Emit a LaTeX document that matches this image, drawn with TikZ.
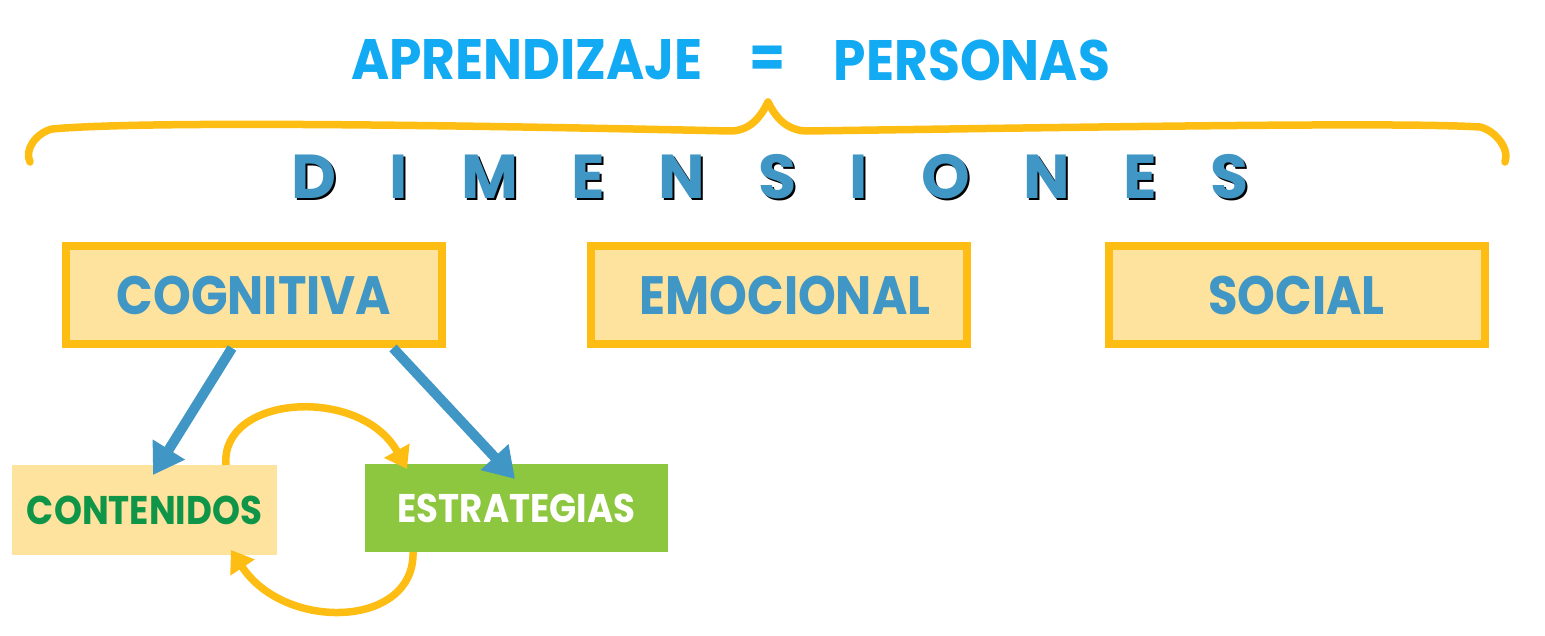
\documentclass[tikz,border=0pt]{standalone}
\usepackage{fontspec}
\setmainfont{Poppins}
\newfontfamily\popn{Poppins}[FakeStretch=0.89]
\newfontfamily\popt{Poppins}[FakeStretch=0.91]
\usetikzlibrary{arrows.meta}
\definecolor{ttl}{HTML}{12AAF2}
\definecolor{brc}{HTML}{FDBD12}
\definecolor{lfill}{HTML}{FDE39D}
\definecolor{dblue}{HTML}{4096C4}
\definecolor{gtext}{HTML}{0F9548}
\definecolor{gfill}{HTML}{8DC63F}
\begin{document}
\begin{tikzpicture}[x=1pt,y=-1pt,
  dimbox/.style={draw=brc,line width=8pt,fill=lfill,minimum width=376pt,minimum height=98pt,inner sep=0pt,
     text=dblue,font=\popn\fontsize{54}{60}\selectfont\bfseries},
  subbox/.style={minimum width=#1,minimum height=90pt,inner sep=0pt,font=\popn\fontsize{40}{44}\selectfont\bfseries},
  ttltext/.style={text=ttl,inner sep=0pt,font=\popt\fontsize{57}{62}\selectfont\bfseries},
  blarrow/.style={draw=dblue,line width=10pt,-{Triangle[length=30pt,width=36pt]}},
  yarrow/.style={draw=brc,line width=7.5pt,-{Triangle[length=21pt,width=28pt]}},
  dimtext/.style={inner sep=0pt,font=\fontsize{62}{66}\selectfont\bfseries}
]
\useasboundingbox (0,0) rectangle (1545,636);
% title
\node[ttltext] (apr) at (527,60) {APRENDIZAJE};
\node[ttltext] (eq) at (768,62) {=};
\node[ttltext] (per) at (972,60) {PERSONAS};
% brace
\draw[brc,line width=7.5pt,line cap=round,line join=round]
  (30,162) .. controls (24,150) and (36,133) .. (52,129)
  .. controls (150,120) and (500,126) .. (730,131)
  .. controls (752,131) and (762,114) .. (768,102)
  .. controls (774,114) and (784,130) .. (806,131)
  .. controls (1100,127) and (1400,122) .. (1480,127)
  .. controls (1494,130) and (1510,148) .. (1505,162);
% dimensiones
\node[dimtext,text=black] (dimsh) at (772,179) {{\spaceskip=53.3pt D I M E N S I O N E S}};
\node[dimtext,text=dblue] (dim) at (770,177) {{\spaceskip=53.3pt D I M E N S I O N E S}};
% boxes
\node[dimbox] (cog) at (254,295) {COGNITIVA};
\node[dimbox] (emo) at (779,295) {\hspace*{12pt}EMOCIONAL};
\node[dimbox] (soc) at (1296.5,295) {SOCIAL};
\node[subbox=265pt,fill=lfill,text=gtext] (cont) at (144.5,510) {CONTENIDOS};
\node[subbox=303pt,minimum height=88pt,fill=gfill,text=white] (estr) at (516.5,508) {ESTRATEGIAS};
% blue arrows
\coordinate (c1) at (232,348);
\coordinate (c2) at (393,348);
\coordinate (t1) at (153,475);
\coordinate (t2) at (515,479);
\draw[blarrow] (c1) -- (t1);
\draw[blarrow] (c2) -- (t2);
% yellow arrows
\coordinate (y1s) at (226,465);
\coordinate (y1e) at (407,469);
\coordinate (y2s) at (413,552);
\coordinate (y2e) at (231,550);
\draw[yarrow] (y1s) .. controls (220,395) and (360,385) .. (y1e);
\draw[yarrow] (y2s) .. controls (415,628) and (285,632) .. (y2e);
\end{tikzpicture}
\end{document}
